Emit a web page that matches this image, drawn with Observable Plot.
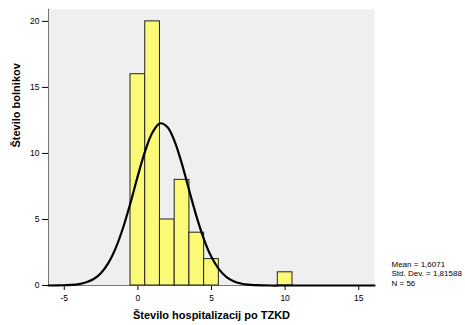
<!DOCTYPE html>
<html>
<head>
<meta charset="utf-8">
<script src="https://cdn.jsdelivr.net/npm/d3@7"></script>
<script src="https://cdn.jsdelivr.net/npm/@observablehq/plot@0.6"></script>
<style>
  html, body { margin: 0; padding: 0; background: #fff; overflow: hidden; }
  #chart { width: 465px; height: 325px; }
</style>
</head>
<body>
<div id="chart"></div>
<script>
// Histogram bins (centered on integers, width 1)
const binCenters = [0, 1, 2, 3, 4, 5, 10];
const counts = [16, 20, 5, 8, 4, 2, 1];

// Normal curve points
const curveX = [-6.07, -5, -4.5, -4, -3.5, -3, -2.5, -2, -1.5, -1, -0.5, 0, 0.5, 1, 1.5, 2, 2.5, 3, 3.5, 4, 4.5, 5, 5.5, 6, 6.5, 7, 7.5, 8, 9, 10, 12, 14, 16.07];
const curveY = [0.0, 0.02, 0.04, 0.1, 0.24, 0.49, 0.95, 1.71, 2.85, 4.39, 6.27, 8.32, 10.2, 11.6, 12.28, 12.0, 10.9, 9.17, 7.14, 5.16, 3.46, 2.15, 1.24, 0.66, 0.33, 0.15, 0.06, 0.03, 0.0, 0.0, 0.0, 0.0, 0.0];

const xTicks = [-5, 0, 5, 10, 15];
const yTicks = [0, 5, 10, 15, 20];
const xTitle = "Število hospitalizacij po TZKD";
const yTitle = "Število bolnikov";
const statsLines = ["Mean = 1,6071", "Std. Dev. = 1,81588", "N = 56"];

const bins = binCenters.map((c, i) => ({x1: c - 0.5, x2: c + 0.5, count: counts[i]}));
const curve = curveX.map((x, i) => ({x, y: curveY[i]}));

const chart = Plot.plot({
  width: 465,
  height: 325,
  marginLeft: 48,
  marginRight: 91,
  marginTop: 9,
  marginBottom: 40,
  style: {fontFamily: "'Liberation Sans', Arial, sans-serif", fontSize: "8.5px", background: "#fff", color: "#000", overflow: "visible"},
  x: {domain: [-6.07, 16.07], ticks: xTicks, tickFormat: d => String(d), tickSize: 5, tickPadding: 4, line: true, label: null},
  y: {domain: [0, 20.9], ticks: yTicks, tickFormat: d => String(d), tickSize: 6, tickPadding: 3, line: true, label: null},
  marks: [
    Plot.frame({fill: "#efefef", stroke: null}),
    Plot.rectY(bins, {x1: "x1", x2: "x2", y: "count", fill: "#fafa78", stroke: "#222", strokeWidth: 1}),
    Plot.line(curve, {x: "x", y: "y", curve: "catmull-rom", stroke: "#000", strokeWidth: 2.2}),
    Plot.text([xTitle], {frameAnchor: "bottom", dy: 33, fontWeight: "bold", fontSize: 11, fill: "#000"}),
    Plot.text([yTitle], {frameAnchor: "left", rotate: -90, dx: -32, fontWeight: "bold", fontSize: 11, fill: "#000"}),
    Plot.text([statsLines.join("\n")], {frameAnchor: "bottom-right", textAnchor: "start", lineAnchor: "bottom", dx: 17, dy: 0, fontSize: 8, lineHeight: 1.15, fill: "#000"})
  ]
});
document.getElementById("chart").appendChild(chart);
</script>
</body>
</html>
